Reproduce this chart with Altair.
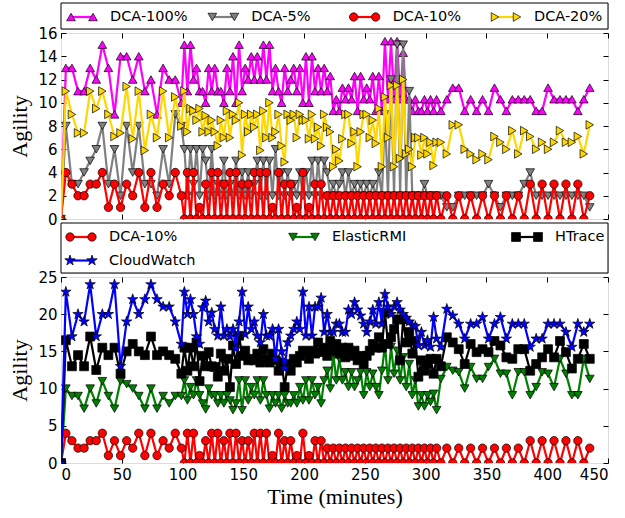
import altair as alt
import pandas as pd

# ---------------- sampling times (minutes) ----------------
TIME_EARLY = [0] + [4 + 5 * k for k in range(20)]
TIME_MID = [101.5 + 2.5 * k for k in range(84)]
TIME_LATE = [round(312.5 + 4.9 * k, 1) for k in range(26)]
TIME = TIME_EARLY + TIME_MID + TIME_LATE

# ---------------- top panel series ----------------
DCA_100 = [0, 13, 13, 11, 11, 13, 12, 15, 13, 9, 14, 14, 12, 14, 11, 12, 9, 13, 12, 12, 10,
           15, 11, 15, 12, 13, 11, 11, 10, 13, 11, 13, 11, 11, 10, 13, 11, 14, 10, 15, 11,
           13, 12, 14, 12, 14, 12, 15, 12, 15, 11, 13, 11, 10, 13, 11, 12, 13, 11, 13, 10,
           14, 10, 14, 11, 13, 11, 13, 11,
           12.3, 9.3, 10.3, 9.3, 11.3, 10.3, 11.3, 10.3, 12.3, 9.3,
           12.3, 10.3, 11.3, 10.3, 12.3, 9.3, 12.3, 9.3, 15.3, 10.3,
           15.3, 10.3, 15.3, 10.3, 14.3, 10.3, 10.3, 9.3, 10.3, 9.3,
           9.3, 10.3, 9.3, 10.3, 9.3, 10.3,
           9.3, 10.3, 11.3, 11.3, 9.3, 10.3, 9.3, 10.3, 9.3, 11.3, 10.3, 9.3, 10.3,
           10.3, 10.3, 10.3, 9.3, 9.3, 11.3, 10.3, 10.3, 10.3, 10.3, 9.3, 10.3, 11.3]
DCA_5 = [0, 8, 3, 3, 4, 5, 6, 8, 3, 6, 2, 8, 4, 8, 3, 3, 2, 6, 3, 9, 8,
         6, 2, 6, 3, 6, 2, 6, 5, 2, 6, 2, 3, 2, 5, 2, 3, 2, 5, 2, 4,
         2, 4, 2, 3, 5, 2, 5, 2, 5, 2, 6, 2, 4, 2, 4, 2, 3, 2, 4, 2,
         4, 2, 5, 2, 5, 2, 5, 4, 2, 3, 2, 3, 4, 2, 4, 2, 3, 2, 3, 2,
         3, 2, 3, 2, 4, 2, 9, 2, 12, 2, 15, 2, 15, 2, 11, 2, 2, 2, 2, 3,
         2, 2, 2, 2,
         2, 1, 1, 2, 2, 2, 2, 2, 3, 2, 1, 2, 2, 2, 3, 4, 2, 2, 2, 2, 2, 2, 2, 2, 2, 1]
DCA_10 = [0, 4, 3, 2, 2, 3, 3, 4, 1, 3, 1, 3, 2, 4, 1, 4, 1, 3, 2, 4, 2,
          0, 4, 0, 4, 0, 1, 0, 3, 0, 4, 0, 4, 0, 3, 0, 4, 0, 4, 0, 3,
          0, 3, 0, 4, 0, 4, 0, 4, 0, 1, 0, 4, 0, 3, 0, 3, 0, 1, 0, 4,
          0, 1, 0, 3, 0, 3,
          0, 2, 0, 2, 0, 2, 0, 2, 0, 2, 0, 2, 0, 2, 0, 2, 0, 2, 0, 2,
          0, 2, 0, 2, 0, 2, 0, 2, 0, 2, 0, 2, 0, 2, 0, 2, 0, 2,
          0, 2, 0, 2, 0, 2, 0, 2, 0, 2, 0, 2, 0, 2, 0, 3, 0, 3, 0, 3, 0, 3, 0, 3, 0, 2]
DCA_20 = [0, 11, 9, 7.4, 7.4, 11, 9.5, 11, 9, 7.1, 7.4, 11.4, 6.9, 11, 5.9, 9, 7, 11, 7, 10.5, 8,
          11, 7.5, 9.5, 9.3, 8.5, 9.5, 7.5, 8.9, 7.5, 8.5, 7.5, 6.3, 8.5, 7, 9.3, 7, 9, 8.5, 10, 5.5,
          9, 7.5, 9, 7.9, 9, 5.9, 9.3, 7, 10, 7, 7.5, 9, 6.3, 4.9, 9, 8.5, 9, 7, 9, 8.5,
          8.5, 6.9, 9, 6.9, 7.9, 6.3, 9, 7.9, 7.5, 4.5, 6, 5, 6.9, 9, 9, 6.5, 7.5, 4.5, 7.5, 9,
          9, 7, 8.5, 6.5, 9.5, 4.5, 10.5, 7, 11.5, 4.5, 11.5, 5.2, 12, 5.6, 6, 4.5, 7, 7, 5.5, 7,
          5.6, 6.6, 4.6, 6.6,
          6.6, 5.6, 8.1, 8.1, 6, 5.6, 5.1, 5.6, 5.1, 7.1, 6.6, 6, 7.6, 5.6, 7.6, 7.1, 6,
          6.6, 6, 6.6, 7.6, 6.6, 6.6, 7.1, 5.6, 8.1]

# ---------------- bottom panel series ----------------
ELASTIC_RMI = [0, 10, 9, 9, 7.3, 10, 8, 11, 9, 7.3, 11, 10.6, 10, 9, 7.3, 10, 7.3, 9, 8, 9, 9,
               11.1, 8.4, 10.2, 9.1, 11.1, 9.1, 8, 7.2, 10, 9.1, 9.1, 8, 9.1, 8, 9.1, 8.4, 7.1, 8, 11.1, 7.1,
               11.1, 8.4, 10.2, 9.1, 11.1, 8.4, 11.1, 9.1, 7.3, 9.1, 8, 9.1, 7.3, 9.1, 8, 8, 9.1, 8, 10.2, 8.4,
               11.1, 8.4, 11.1, 9.1, 10.2, 8, 11.1, 12.4, 10, 14.7, 11.1, 14, 11.1, 12.2, 10.2, 12.2, 10.2, 11.1, 12.2, 9.1,
               12.2, 10.2, 12, 10.2, 9.1, 12.4, 15.8, 11.1, 15.6, 12, 15.1, 11.1, 14.2, 10.2, 13.3, 9.1, 11.1, 7.6, 9.1, 7.6,
               9.1, 8.2, 9.3, 7.1,
               11.3, 12.9, 12.4, 12.2, 10, 12.9, 11.3, 11.3, 12.9, 14, 12, 12, 9.1, 12.2, 12.2, 9.1, 10.2,
               12.2, 12, 10.2, 14, 12, 9.1, 9.1, 14, 11.3]
HTRACE = [0, 16.5, 13, 14.5, 13, 17, 12.5, 15.5, 14.5, 15.5, 12, 15, 16, 15, 14.5, 17, 14.5, 15, 14.5, 14, 12,
          15.5, 12.4, 15.5, 13, 16.2, 11, 14.4, 13, 14.9, 13, 12.9, 11.6, 14.7, 12.4, 14, 10.2, 15.8, 13.3, 17.1, 14.4,
          15.1, 13.8, 14, 13.8, 14.7, 13.5, 15.3, 14, 13.5, 14.7, 13.8, 12.4, 13.5, 10.2, 13.3, 12.4, 14, 13.5, 14.4, 15.1,
          14.9, 14, 15.1, 14.7, 16.2, 14.9, 15.5, 14.4, 16.4, 15.1, 16, 14.7, 15.5, 14.2, 15.5, 14.4, 15.1, 13.8, 14.4, 13.3,
          14.4, 15.1, 16, 15.5, 16.9, 15.5, 20.2, 16, 16.9, 18, 19.3, 13.8, 19.3, 16.2, 17.6, 14.7, 16.4, 11.6, 13.8, 12.4,
          13.3, 14, 12, 14,
          13, 16.9, 16.2, 15.3, 13.3, 16, 14.9, 15.3, 14.9, 16.4, 15.8, 14.2, 14, 15.3, 15.3, 12.4, 13.3,
          14.2, 15.3, 14.2, 16.4, 14.9, 12.7, 14, 16, 14]
CLOUDWATCH = [0, 23, 17, 20, 19, 24, 17, 20, 20, 24, 13, 19, 22, 20, 22, 24, 22, 21, 21, 19, 16,
              23, 20, 22, 20, 17, 16, 20.9, 21.8, 19, 20.2, 18, 17.1, 21, 17.1, 18, 17, 18, 15.4, 19, 23,
              17.3, 21, 18, 19, 17.1, 16.2, 20, 17.1, 17.1, 18, 14, 18, 15, 12.7, 16.2, 17.1, 18, 19, 18, 23,
              17.1, 21, 17.1, 21, 21, 22.2, 17.6, 20, 17.6, 17.6, 18.7, 18.7, 17.6, 17.6, 20.6, 20, 21.6, 20.6, 19.8, 18.7,
              17.6, 19, 20.6, 18.7, 21.6, 18.7, 22.7, 21, 20, 21, 21.6, 20.6, 20, 19.5, 19, 18.5, 18.4, 15.8, 17.6, 15.8,
              16.5, 15.6, 19.6, 16.7,
              15.6, 20.7, 19.8, 18.7, 16.7, 18.7, 18.7, 19.6, 16.7, 18.7, 19.6, 16.7, 18.7, 18.7, 18.7, 15.6, 16.7,
              16.7, 18.7, 18.7, 18.7, 17.6, 15.6, 18.7, 17.6, 18.7]

STAR = ("M0,-1L0.2245,-0.309L0.951,-0.309L0.363,0.118L0.588,0.809L0,0.382"
        "L-0.588,0.809L-0.363,0.118L-0.951,-0.309L-0.2245,-0.309Z")

TOP_NAMES = ["DCA-100%", "DCA-5%", "DCA-10%", "DCA-20%"]
TOP_VALUES = [DCA_100, DCA_5, DCA_10, DCA_20]
TOP_COLORS = ["#ff00ff", "#808080", "#ff0000", "#ffd700"]
TOP_SHAPES = ["triangle-up", "triangle-down", "circle", "triangle-right"]
TOP_COLS = [0, 1, 2, 3]
TOP_ROWS = [0, 0, 0, 0]

BOT_NAMES = ["DCA-10%", "ElasticRMI", "HTrace", "CloudWatch"]
BOT_VALUES = [DCA_10, ELASTIC_RMI, HTRACE, CLOUDWATCH]
BOT_COLORS = ["#ff0000", "#008000", "#000000", "#0000ff"]
BOT_SHAPES = ["circle", "triangle-down", "square", STAR]
BOT_SIZES = [70, 75, 80, 120]
TOP_SIZES = [75, 75, 70, 75]
BOT_COLS = [0, 1, 2, 0]
BOT_ROWS = [0, 0, 0, 1]

W = 547
H = 186
TICK_FONT = "DejaVu Sans"
TITLE_FONT = "Liberation Serif"


def make_panel(names, values, colors, shapes, sizes, ymax, ystep, bottom_labels):
    rows = []
    for n, vals in zip(names, values):
        for t, v in zip(TIME, vals):
            rows.append({"t": t, "v": v, "series": n})
    df = pd.DataFrame(rows)
    xs = alt.Scale(domain=[0, 450], nice=False, zero=False)
    ys = alt.Scale(domain=[0, ymax], nice=False)
    xticks = list(range(0, 451, 50))
    yticks = list(range(0, ymax + 1, ystep))
    x_axis = alt.Axis(values=xticks, orient="bottom", tickSize=5, offset=-5, domain=False,
                      tickColor="black", labels=bottom_labels, labelPadding=4,
                      labelFont=TICK_FONT, labelFontSize=15, labelColor="black",
                      title="Time (minutes)" if bottom_labels else None,
                      titleFont=TITLE_FONT, titleFontSize=22, titleFontWeight="normal",
                      titleColor="black", titlePadding=4, grid=False)
    y_axis = alt.Axis(values=yticks, orient="left", tickSize=5, offset=-5, domain=False,
                      tickColor="black", labelPadding=4, labelFont=TICK_FONT,
                      labelFontSize=15, labelColor="black", title="Agility",
                      titleFont=TITLE_FONT, titleFontSize=22, titleFontWeight="normal",
                      titleColor="black", titlePadding=6, grid=False)
    layers = []
    for i, (n, c, s, sz) in enumerate(zip(names, colors, shapes, sizes)):
        base = alt.Chart(df).transform_filter(alt.datum.series == n)
        line = base.mark_line(color=c, strokeWidth=2.2, clip=True).encode(
            x=alt.X("t:Q", scale=xs, axis=x_axis if i == 0 else None),
            y=alt.Y("v:Q", scale=ys, axis=y_axis if i == 0 else None),
        )
        pts = base.mark_point(shape=s, filled=True, fill=c, stroke="black", strokeWidth=0.7,
                              size=sz, opacity=1, clip=True).encode(
            x=alt.X("t:Q", scale=xs, axis=None),
            y=alt.Y("v:Q", scale=ys, axis=None),
        )
        layers += [line, pts]
    frame = alt.Chart(df).mark_point(opacity=0).encode(
        x=alt.X("t:Q", scale=xs, axis=alt.Axis(values=xticks, orient="top", tickSize=5, offset=-5,
                                                domain=False, labels=False, title=None,
                                                tickColor="black", grid=False)),
        y=alt.Y("v:Q", scale=ys, axis=alt.Axis(values=yticks, orient="right", tickSize=5, offset=-5,
                                                domain=False, labels=False, title=None,
                                                tickColor="black", grid=False)),
    )
    layers.append(frame)
    return alt.layer(*layers).resolve_axis(x="independent", y="independent").properties(
        width=W, height=H)


def make_legend(names, colors, shapes, sizes, cols, rows, ncols, x_range, y_range, height):
    df = pd.DataFrame({"label": names, "color": colors, "shape": shapes, "size": sizes,
                       "col": cols, "row": rows})
    x = alt.X("col:Q", scale=alt.Scale(domain=[0, ncols - 1], range=x_range), axis=None)
    y = alt.Y("row:Q", scale=alt.Scale(domain=[0, 1], range=y_range), axis=None)
    base = alt.Chart(df)
    box = alt.Chart(pd.DataFrame({"box": [0]})).mark_rect(
        fill="white", stroke="black", strokeWidth=1).encode(
        x=alt.value(0), x2=alt.value(W), y=alt.value(0), y2=alt.value(height))
    rule = base.mark_rule(strokeWidth=2.2, x2Offset=22).encode(
        x=x, x2="col:Q", y=y, color=alt.Color("color:N", scale=None))
    p1 = base.mark_point(filled=True, stroke="black", strokeWidth=0.7, opacity=1).encode(
        x=x, y=y, fill=alt.Fill("color:N", scale=None), shape=alt.Shape("shape:N", scale=None),
        size=alt.Size("size:Q", scale=None))
    p2 = base.mark_point(filled=True, stroke="black", strokeWidth=0.7, opacity=1, xOffset=22).encode(
        x=x, y=y, fill=alt.Fill("color:N", scale=None), shape=alt.Shape("shape:N", scale=None),
        size=alt.Size("size:Q", scale=None))
    txt = base.mark_text(align="left", baseline="middle", dx=39, font=TICK_FONT,
                         fontSize=14.5, color="black").encode(x=x, y=y, text="label:N")
    return alt.layer(box, rule, p1, p2, txt).properties(width=W, height=height)


top_plot = make_panel(TOP_NAMES, TOP_VALUES, TOP_COLORS, TOP_SHAPES, TOP_SIZES, 16, 2, False)
bot_plot = make_panel(BOT_NAMES, BOT_VALUES, BOT_COLORS, BOT_SHAPES, BOT_SIZES, 25, 5, True)
top_leg = make_legend(TOP_NAMES, TOP_COLORS, TOP_SHAPES, TOP_SIZES, TOP_COLS, TOP_ROWS, 4,
                      [10, 434], [14, 40], 26)
bot_leg = make_legend(BOT_NAMES, BOT_COLORS, BOT_SHAPES, BOT_SIZES, BOT_COLS, BOT_ROWS, 3,
                      [9, 455], [14, 37.5], 50)

chart = alt.vconcat(top_leg, top_plot, bot_leg, bot_plot, spacing=4, bounds="flush").properties(
    padding={"left": 8, "top": 2, "right": 5, "bottom": 5}
).configure_view(stroke="black", strokeWidth=1.2).configure(background="white")

chart.save("out.html", embed_options={"renderer": "svg", "actions": False})
